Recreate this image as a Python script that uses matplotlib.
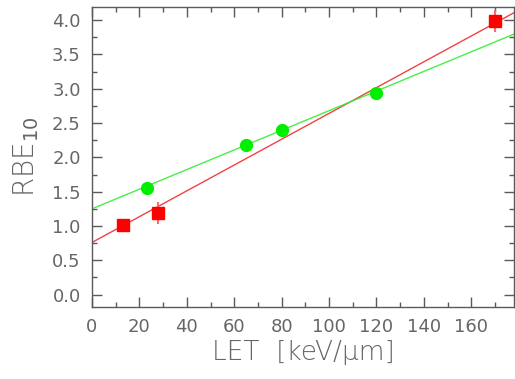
import numpy as np
import matplotlib.pyplot as plt
from matplotlib.ticker import MultipleLocator

# data
red_let = [13, 28, 170]
red_rbe = [1.01, 1.19, 3.98]
red_err = [0.0, 0.16, 0.16]
green_let = [23, 65, 80, 120]
green_rbe = [1.55, 2.18, 2.40, 2.94]

# fitted lines (intercept, slope)
red_fit = (0.76, 0.0188)
green_fit = (1.25, 0.0143)

grey = '#5a5a5a'
plt.rcParams['font.family'] = 'DejaVu Sans'

fig = plt.figure(figsize=(5.15, 3.79), dpi=100)
ax = fig.add_axes([0.1786, 0.19, 0.8194, 0.7915])

xlim = (0, 178)
xs = np.array(xlim)
ax.plot(xs, red_fit[0] + red_fit[1] * xs, color='#ee2222', lw=1, alpha=0.85, zorder=2)
ax.plot(xs, green_fit[0] + green_fit[1] * xs, color='#33ee33', lw=1, alpha=0.9, zorder=2)

ax.errorbar(red_let, red_rbe, yerr=red_err, fmt='none', ecolor='#f07070', elinewidth=1.5, zorder=3)
ax.plot(red_let, red_rbe, 's', color='#ff0000', ms=8.5, mec='#ff0000', zorder=4)
ax.plot(green_let, green_rbe, 'o', color='#00ee00', ms=8.5, mec='#00ee00', zorder=4)

ax.set_xlim(*xlim)
ax.set_ylim(-0.18, 4.19)
ax.xaxis.set_major_locator(MultipleLocator(20))
ax.xaxis.set_minor_locator(MultipleLocator(10))
ax.yaxis.set_major_locator(MultipleLocator(0.5))
ax.yaxis.set_minor_locator(MultipleLocator(0.25))
ax.set_xticks(np.arange(0, 161, 20))
ax.set_yticks(np.arange(0, 4.01, 0.5))
ax.set_yticklabels([f'{v:.1f}' for v in np.arange(0, 4.01, 0.5)])

ax.tick_params(which='both', direction='in', top=True, right=True, color=grey,
               labelcolor='#666666', labelsize=13, width=1)
ax.tick_params(which='major', length=7, pad=8)
ax.tick_params(which='minor', length=3.5)
for s in ax.spines.values():
    s.set_color(grey)
    s.set_linewidth(1)

ax.set_xlabel('LET  [keV/µm]', color='#666666', fontsize=19, fontweight='light', labelpad=3)
ax.set_ylabel('RBE$_{10}$', color='#666666', fontsize=20, fontweight='light', labelpad=8)

fig.savefig('out.png', dpi=100)
